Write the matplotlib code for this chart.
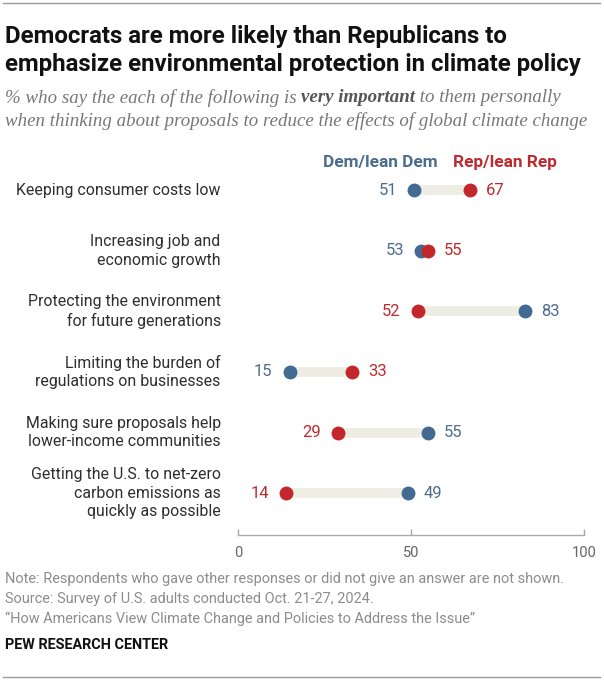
import matplotlib.pyplot as plt

sans = 'Roboto'
serif = 'Liberation Serif'

categories = [
    "Keeping consumer costs low",
    "Increasing job and\neconomic growth",
    "Protecting the environment\nfor future generations",
    "Limiting the burden of\nregulations on businesses",
    "Making sure proposals help\nlower-income communities",
    "Getting the U.S. to net-zero\ncarbon emissions as\nquickly as possible",
]
dem = [51, 53, 83, 15, 55, 49]
rep = [67, 55, 52, 33, 29, 14]
ticks = [0, 50, 100]

blue = '#436a93'
red = '#c3272b'
blue_txt = '#4c6d8f'
red_txt = '#bd2b2e'
bar_col = '#eeede3'

W, H = 604, 680
fig = plt.figure(figsize=(W / 100, H / 100), dpi=100)
ax = fig.add_axes([238 / W, 1 - 535 / H, (584 - 238) / W, (535 - 175) / H])

for i, (d, r) in enumerate(zip(dem, rep)):
    ax.plot([d, r], [i, i], color=bar_col, lw=7, solid_capstyle='butt', zorder=1)
    ax.scatter(d, i, s=100, color=blue, zorder=3, linewidths=0)
    ax.scatter(r, i, s=100, color=red, zorder=4, linewidths=0)
    lo, hi = (d, r) if d <= r else (r, d)
    lo_c = blue_txt if d <= r else red_txt
    hi_c = red_txt if d <= r else blue_txt
    ax.annotate(str(lo), (lo, i), xytext=(-12.5, 0), textcoords='offset points',
                ha='right', va='center', fontsize=12, color=lo_c, family=sans)
    ax.annotate(str(hi), (hi, i), xytext=(11.5, 0), textcoords='offset points',
                ha='left', va='center', fontsize=12, color=hi_c, family=sans)
    ax.annotate(categories[i], (0, i), xytext=(-12.5, 0), textcoords='offset points',
                ha='right', va='center', fontsize=11.4, color='#2e2e2e', family=sans,
                linespacing=1.3, multialignment='right')

ax.set_xlim(0, 100)
ax.set_ylim(5.69, -0.25)
ax.set_yticks([])
ax.set_xticks(ticks)
ax.set_xticklabels([str(t) for t in ticks], family=sans, fontsize=10.5, color='#666666')
ax.tick_params(axis='x', direction='in', length=4, width=1, color='#aaaaaa', pad=8)
for s in ['top', 'left', 'right']:
    ax.spines[s].set_visible(False)
ax.spines['bottom'].set_color('#aaaaaa')
ax.spines['bottom'].set_linewidth(1)
ax.patch.set_alpha(0)

fig.text(380 / W, 1 - 162 / H, 'Dem/lean Dem', ha='center', va='center',
         fontsize=12.4, fontweight='bold', color=blue_txt, family=sans)
fig.text(505 / W, 1 - 162 / H, 'Rep/lean Rep', ha='center', va='center',
         fontsize=12.4, fontweight='bold', color=red_txt, family=sans)

fig.text(5 / W, 1 - 50.5 / H, 'Democrats are more likely than Republicans to\n'
         'emphasize environmental protection in climate policy',
         ha='left', va='center', fontsize=17.3, fontweight='bold', color='#111111',
         family=sans, linespacing=1.28)

fs_sub = 13.6
sub_y1 = 1 - 98 / H
sub_y2 = 1 - 121 / H
t1 = fig.text(5 / W, sub_y1, '% who say the each of the following is ', ha='left', va='center',
              fontsize=fs_sub, style='italic', color='#777777', family=serif)
fig.canvas.draw()
r = fig.canvas.get_renderer()
bb = t1.get_window_extent(r)
t2 = fig.text(bb.x1 / W, sub_y1, 'very important', ha='left', va='center',
              fontsize=fs_sub, style='italic', fontweight='bold', color='#555555',
              family=serif)
bb2 = t2.get_window_extent(r)
fig.text(bb2.x1 / W, sub_y1, ' to them personally', ha='left', va='center',
         fontsize=fs_sub, style='italic', color='#777777', family=serif)
fig.text(5 / W, sub_y2, 'when thinking about proposals to reduce the effects of global climate change',
         ha='left', va='center', fontsize=fs_sub, style='italic', color='#777777',
         family=serif)

notes = ['Note: Respondents who gave other responses or did not give an answer are not shown.',
         'Source: Survey of U.S. adults conducted Oct. 21-27, 2024.',
         '\u201cHow Americans View Climate Change and Policies to Address the Issue\u201d']
for k, line in enumerate(notes):
    fig.text(5 / W, 1 - (579 + 20 * k) / H, line, ha='left', va='center',
             fontsize=10.45, color='#8c8c8c', family=sans)
fig.text(5 / W, 1 - 645 / H, 'PEW RESEARCH CENTER', ha='left', va='center',
         fontsize=10.4, fontweight='bold', color='#111111', family=sans)

fig.add_artist(plt.Line2D([3 / W, 600 / W], [1 - 3 / H] * 2, color='#999999', lw=1))
fig.add_artist(plt.Line2D([3 / W, 600 / W], [1 - 677 / H] * 2, color='#999999', lw=1))

fig.savefig('out.png', dpi=100)
